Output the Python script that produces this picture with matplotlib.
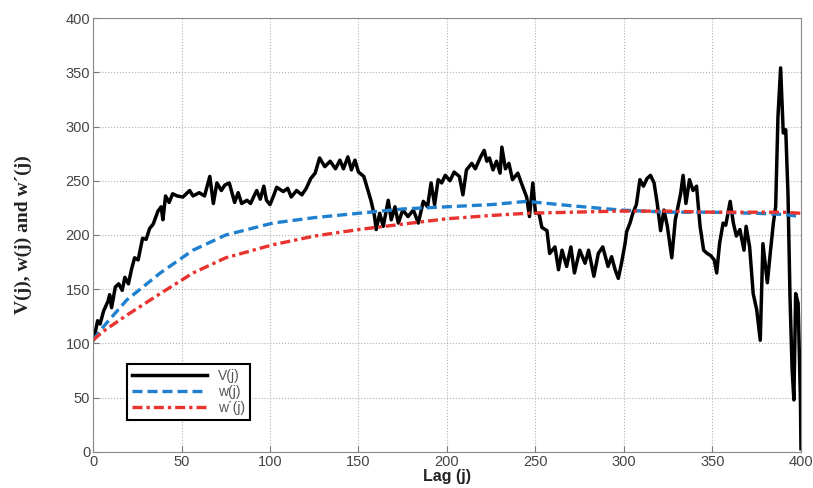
import matplotlib
matplotlib.use("Agg")
import matplotlib.pyplot as plt

# V(j)
v_lag = [0, 1.5, 2.6, 4, 6, 8.5, 9.4, 10.5, 12.6, 14.5, 16.5, 18, 20, 21.7, 23.5, 25.5,
         28, 30, 32, 34, 36.7, 38.5, 39.5, 41, 43, 45, 47.5, 50.8, 54.6, 56.5, 60, 63,
         66, 68, 70, 72.5, 74.5, 77, 80, 82, 84, 87, 89, 91, 92.5, 94.5, 96.5, 98, 100,
         102, 103.8, 107.5, 110, 112, 115, 118, 120.5, 123, 125.5, 128, 131, 134, 137,
         139.5, 141.5, 144, 146, 148, 150, 153, 155, 157, 159, 160, 162, 164, 166.8,
         168.5, 170.6, 172.5, 175, 178, 181, 183.8, 186.6, 189, 191, 193, 195, 197, 199,
         201.7, 204, 207, 209, 211, 214, 216, 219, 221, 222.5, 224, 226, 228, 230, 231,
         233, 235, 237, 240, 242, 245, 246.6, 248.5, 250, 252, 253.6, 256.5, 258, 261,
         263, 265, 267.6, 270, 272, 275, 278, 280, 283, 285.5, 288, 291, 293, 295, 296.8,
         298.6, 300.6, 301.5, 303.4, 305, 307, 309, 311, 313, 315, 317, 318.8, 320.7,
         322.6, 324.5, 327, 329, 332, 333.4, 335, 337, 339, 341, 343, 345, 347, 349, 351,
         352.4, 354, 356, 357.5, 359, 360, 361.8, 363.5, 365.5, 367.8, 369, 371, 373, 375,
         377, 378.5, 381, 383, 384.4, 385.7, 387, 388.5, 390, 391.4, 392.7, 393.8, 395,
         396, 397, 398.4, 399.7, 400]
v_val = [103, 112, 121, 118, 130, 139, 145, 133, 152, 155, 149, 161, 155, 168, 179, 177,
         197, 196, 206, 210, 222, 226, 214, 236, 230, 238, 236, 235, 241, 236, 239, 236,
         254, 229, 248, 241, 246, 248, 230, 239, 229, 232, 229, 236, 241, 233, 245, 232, 228,
         236, 244, 240, 243, 235, 241, 237, 243, 252, 257, 271, 263, 268, 261,
         269, 261, 272, 260, 269, 258, 254, 243, 232, 218, 205, 220, 208, 232,
         214, 226, 211, 223, 217, 223, 211, 231, 226, 248, 228, 251, 248, 255,
         250, 258, 254, 237, 260, 266, 261, 272, 278, 268, 271, 260, 268, 257, 281,
         261, 266, 251, 257, 248, 235, 217, 248, 220, 220, 207, 204, 183, 189,
         168, 186, 171, 189, 165, 186, 174, 186, 162, 183, 189, 171, 180, 168, 160,
         174, 192, 203, 211, 220, 228, 251, 245, 252, 255, 248, 229, 204,
         223, 208, 179, 214, 238, 255, 229, 251, 241, 245, 208, 186, 183, 181, 177,
         165, 192, 211, 209, 222, 231, 211, 199, 205, 186, 208, 189, 146, 131,
         103, 192, 156, 189, 211, 226, 309, 354, 294, 297, 236, 143, 76,
         48, 146, 137, 48, 3]

# w(j) and w'(j)
w_lag = [0, 5.6, 19, 38, 56.5, 75, 101.6, 125, 150, 175, 200, 225, 245, 270, 298, 325, 350, 375, 390, 400]
w_val = [103, 115, 140, 165, 186, 200, 211, 216, 220, 224, 226, 228, 231, 227, 223, 221, 221, 220, 219, 217]
wp_val = [103, 111, 126, 146, 165, 179, 191, 199, 205, 210, 215, 218, 220, 221, 222, 222, 221, 221, 221, 220]

sans = 'Liberation Sans'

fig = plt.figure(figsize=(8.13, 4.88), dpi=100)
ax = fig.add_axes([0.1144, 0.0738, 0.8708, 0.8893])

ax.plot(v_lag, v_val, color='black', linewidth=2.5, label='V(j)')
ax.plot(w_lag, w_val, color='#1f80d0', linewidth=2.4, linestyle=(0, (3, 1.5)), label='w(j)')
ax.plot(w_lag, wp_val, color='#e8332e', linewidth=2.4, linestyle=(0, (3, 1.2, 1, 1.2)), label='w\u00b4(j)')

ax.set_xlim(0, 400)
ax.set_ylim(0, 400)
ax.set_xticks(range(0, 401, 50))
ax.set_yticks(range(0, 401, 50))
ax.grid(True, linestyle=':', color='#b0b0b0', linewidth=0.8)
ax.tick_params(direction='in', length=4, colors='#777777', labelcolor='#444444',
               labelsize=10.5, pad=2)
for lbl in ax.get_xticklabels() + ax.get_yticklabels():
    lbl.set_family(sans)
for s in ax.spines.values():
    s.set_color('#888888')

ax.set_xlabel('Lag (j)', fontsize=11.5, fontweight='bold', family=sans, color='#222222', labelpad=0)
ax.set_ylabel('V(j), w(j) and w\u00b4(j)', fontsize=14, fontweight='bold',
              family='Liberation Serif', color='#222222', labelpad=24)

leg = ax.legend(loc='lower left', bbox_to_anchor=(0.048, 0.074), borderaxespad=0,
                fancybox=False, prop={'family': sans, 'size': 10}, handlelength=5.4,
                labelspacing=0.15, borderpad=0.35, framealpha=1)
leg.get_frame().set_edgecolor('black')
leg.get_frame().set_linewidth(1.5)
for t in leg.get_texts():
    t.set_color('#555555')

fig.savefig('out.png', dpi=100)
